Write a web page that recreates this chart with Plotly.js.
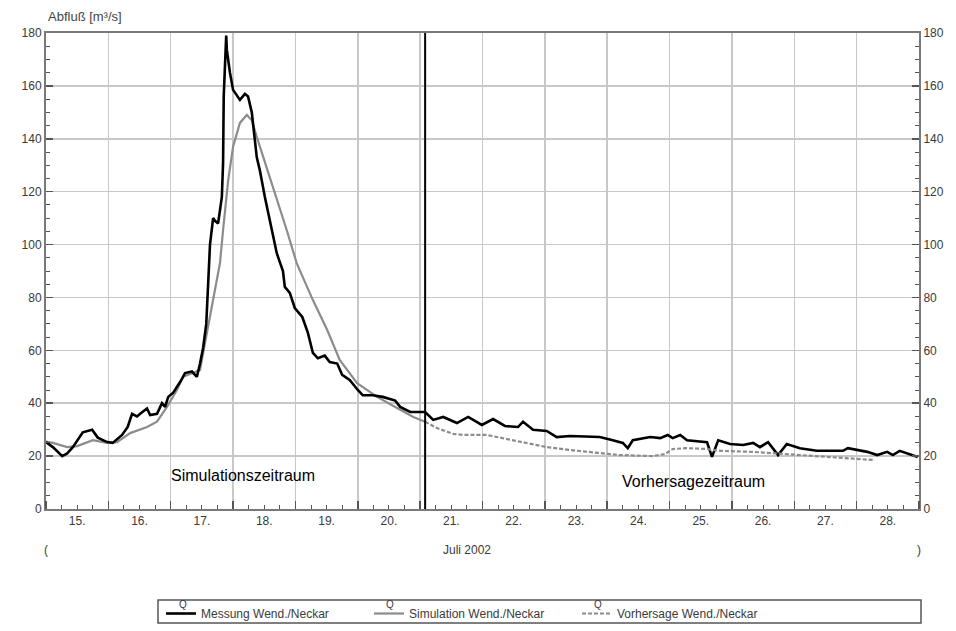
<!DOCTYPE html>
<html>
<head>
<meta charset="utf-8">
<script src="https://cdn.plot.ly/plotly-3.0.1.min.js"></script>
<style>html,body{margin:0;padding:0;background:#fff;}#chart{width:956px;height:631px;}</style>
</head>
<body>
<div id="chart"></div>
<script>
// Times are given as day of July 2002 (decimal days), values in m³/s
const messungDay = [15.00,15.11,15.26,15.34,15.43,15.59,15.74,15.83,15.98,16.07,16.22,16.31,16.38,16.46,16.51,16.62,16.67,16.78,16.86,16.91,16.96,17.04,17.15,17.23,17.34,17.42,17.47,17.52,17.57,17.60,17.63,17.68,17.71,17.76,17.82,17.84,17.85,17.89,17.90,17.95,18.00,18.11,18.19,18.24,18.30,18.38,18.43,18.51,18.59,18.64,18.70,18.74,18.80,18.83,18.91,18.99,19.07,19.11,19.20,19.28,19.36,19.47,19.55,19.67,19.75,19.87,20.00,20.08,20.24,20.40,20.60,20.68,20.84,21.08,21.21,21.37,21.59,21.77,21.99,22.17,22.36,22.57,22.65,22.81,23.03,23.19,23.40,23.88,24.09,24.25,24.33,24.41,24.69,24.85,24.97,25.05,25.17,25.28,25.60,25.68,25.78,25.97,26.18,26.34,26.45,26.58,26.74,26.88,27.09,27.36,27.78,27.86,28.17,28.33,28.49,28.58,28.69,28.86,28.98];
const messungQ   = [25.3,23.4,20.0,21.0,23.4,29.0,30.0,27.0,25.3,25.0,28.0,31.0,36.0,35.0,36.0,38.0,35.5,36.0,40.0,38.6,42.4,44.0,48.0,51.4,52.0,50.0,55.0,61.0,70.0,85.0,100.0,110.0,109.0,108.0,118.0,131.0,156.0,179.0,173.6,165.0,158.5,154.7,157.0,156.0,150.0,133.0,128.0,118.0,109.0,103.0,96.8,94.0,90.0,84.0,81.7,76.0,74.0,72.6,66.6,59.0,57.0,58.0,55.6,55.0,50.7,48.8,45.0,43.0,43.0,42.4,41.0,38.6,36.7,36.7,33.7,34.8,32.5,34.8,31.8,34.0,31.4,31.0,33.0,30.0,29.5,27.2,27.6,27.2,26.0,25.0,23.0,26.0,27.2,26.8,28.0,26.8,28.0,26.0,25.3,19.7,26.0,24.6,24.2,25.0,23.4,25.3,20.4,24.6,23.0,22.0,22.0,23.0,21.6,20.4,21.6,20.4,22.0,20.8,19.7];

const simDay = [15.00,15.11,15.34,15.50,15.75,15.98,16.14,16.35,16.62,16.78,16.94,17.10,17.20,17.36,17.47,17.55,17.68,17.79,17.84,17.92,18.00,18.11,18.22,18.30,18.38,18.54,18.70,18.86,19.02,19.15,19.28,19.51,19.71,19.99,20.31,20.63,20.89,21.08];
const simQ   = [25.5,25.0,23.4,23.8,26.0,25.0,25.3,28.7,31.0,33.0,38.6,45.0,50.0,51.4,52.6,62.8,80.0,93.0,105.5,124.0,137.0,146.0,149.0,147.0,140.7,129.0,118.0,105.5,93.0,86.0,79.0,67.7,56.4,47.6,42.4,38.2,34.8,33.0];

const vorDay = [21.08,21.27,21.53,21.69,22.07,22.33,22.60,23.03,23.40,23.84,24.20,24.73,24.93,25.05,25.28,25.60,25.81,26.34,26.88,27.41,27.94,28.29];
const vorQ   = [33.0,30.6,28.4,28.0,28.0,26.8,25.3,23.4,22.3,21.2,20.4,20.0,20.8,22.7,23.0,22.7,22.0,21.6,20.8,20.0,19.3,18.5];

const forecastStartDay = 21.08;
const seriesNames = ["Messung Wend./Neckar", "Simulation Wend./Neckar", "Vorhersage Wend./Neckar"];

const DAY = 86400000;
const toMs = d => Date.UTC(2002, 6, 1) + (d - 1) * DAY;

const font = "Liberation Sans, Arial, Helvetica, sans-serif";
const tickCol = "#3a3a3a";
const px = v => (v - 46) / 873;      // paper x from pixel
const py = v => (509 - v) / 476;     // paper y from pixel

const traces = [
  {x: simDay.map(toMs), y: simQ, type: "scatter", mode: "lines", name: seriesNames[1],
   line: {color: "#8c8c8c", width: 2.2}, xaxis: "x", yaxis: "y", legendrank: 2},
  {x: vorDay.map(toMs), y: vorQ, type: "scatter", mode: "lines", name: seriesNames[2],
   line: {color: "#8c8c8c", width: 2.2, dash: "4px,2px"}, xaxis: "x", yaxis: "y2", legendrank: 3},
  {x: messungDay.map(toMs), y: messungQ, type: "scatter", mode: "lines", name: seriesNames[0],
   line: {color: "#000000", width: 2.6}, xaxis: "x", yaxis: "y", legendrank: 1}
];

const layout = {
  width: 956, height: 631,
  margin: {l: 46, r: 37, t: 33, b: 122, autoexpand: false},
  paper_bgcolor: "#fff", plot_bgcolor: "#fff",
  font: {family: font, size: 12, color: tickCol},
  showlegend: true,
  legend: {orientation: "h", xref: "container", yref: "container",
           x: 161 / 956, y: (631 - 599) / 631, xanchor: "left", yanchor: "top",
           traceorder: "normal", entrywidth: 163, bgcolor: "rgba(0,0,0,0)",
           font: {family: font, size: 12, color: tickCol}},
  xaxis: {
    type: "date", range: [toMs(15), toMs(29)],
    tick0: toMs(15), dtick: DAY, tickformat: "%-d.", ticklabelmode: "period",
    ticks: "inside", ticklen: 8, tickwidth: 1.5, tickcolor: "#555",
    showgrid: true, gridcolor: "#c8c8c8", gridwidth: 1.5,
    showline: true, linecolor: "#7a7a7a", linewidth: 2, mirror: true,
    minor: {dtick: DAY / 4, tick0: toMs(15), ticks: "inside", ticklen: 4, tickcolor: "#555", tickwidth: 1, showgrid: false},
    zeroline: false, fixedrange: true,
    tickfont: {family: font, size: 12, color: tickCol}
  },
  yaxis: {
    range: [0, 180], dtick: 20, tick0: 0,
    ticks: "inside", ticklen: 7, tickwidth: 1.5, tickcolor: "#555",
    showgrid: true, gridcolor: "#c8c8c8", gridwidth: 1.5,
    showline: true, linecolor: "#7a7a7a", linewidth: 2,
    minor: {dtick: 5, ticks: "inside", ticklen: 4, tickcolor: "#555", tickwidth: 1, showgrid: false},
    zeroline: false, fixedrange: true,
    tickfont: {family: font, size: 12, color: tickCol}
  },
  yaxis2: {
    overlaying: "y", side: "right", matches: "y", range: [0, 180], dtick: 20, tick0: 0,
    ticks: "inside", ticklen: 7, tickwidth: 1.5, tickcolor: "#555",
    showgrid: false, showline: true, linecolor: "#7a7a7a", linewidth: 2,
    minor: {dtick: 5, ticks: "inside", ticklen: 4, tickcolor: "#555", tickwidth: 1, showgrid: false},
    zeroline: false, fixedrange: true,
    tickfont: {family: font, size: 12, color: tickCol}
  },
  shapes: [
    {type: "line", xref: "x", yref: "paper", x0: toMs(forecastStartDay), x1: toMs(forecastStartDay), y0: 0, y1: 1,
     line: {color: "#000", width: 2}},
    {type: "rect", xref: "paper", yref: "paper", x0: px(158), x1: px(921),
     y0: py(623), y1: py(600), line: {color: "#555", width: 1.5}}
  ],
  annotations: [
    {text: "Abfluß [m³/s]", xref: "paper", yref: "paper", x: px(46), y: py(17), xanchor: "left", yanchor: "middle",
     showarrow: false, font: {family: font, size: 13, color: "#444"}},
    {text: "Juli 2002", xref: "paper", yref: "paper", x: px(467), y: py(550), xanchor: "center", yanchor: "middle",
     showarrow: false, font: {family: font, size: 12, color: tickCol}},
    {text: "(", xref: "paper", yref: "paper", x: 0.0, y: py(550), xanchor: "center", yanchor: "middle",
     showarrow: false, font: {family: font, size: 12, color: tickCol}},
    {text: ")", xref: "paper", yref: "paper", x: 1.0, y: py(550), xanchor: "center", yanchor: "middle",
     showarrow: false, font: {family: font, size: 12, color: tickCol}},
    {text: "Simulationszeitraum", xref: "paper", yref: "paper", x: px(243), y: py(475),
     xanchor: "center", yanchor: "middle", showarrow: false, font: {family: font, size: 16, color: "#000"}},
    {text: "Vorhersagezeitraum", xref: "paper", yref: "paper", x: px(693), y: py(481),
     xanchor: "center", yanchor: "middle", showarrow: false, font: {family: font, size: 16, color: "#000"}},
    {text: "Q", xref: "paper", yref: "paper", x: px(183), y: py(604), xanchor: "center", yanchor: "middle",
     showarrow: false, font: {family: font, size: 10, color: tickCol}},
    {text: "Q", xref: "paper", yref: "paper", x: px(390), y: py(604), xanchor: "center", yanchor: "middle",
     showarrow: false, font: {family: font, size: 10, color: tickCol}},
    {text: "Q", xref: "paper", yref: "paper", x: px(598), y: py(604), xanchor: "center", yanchor: "middle",
     showarrow: false, font: {family: font, size: 10, color: tickCol}}
  ]
};

Plotly.newPlot("chart", traces, layout, {displayModeBar: false, staticPlot: true});
</script>
</body>
</html>
